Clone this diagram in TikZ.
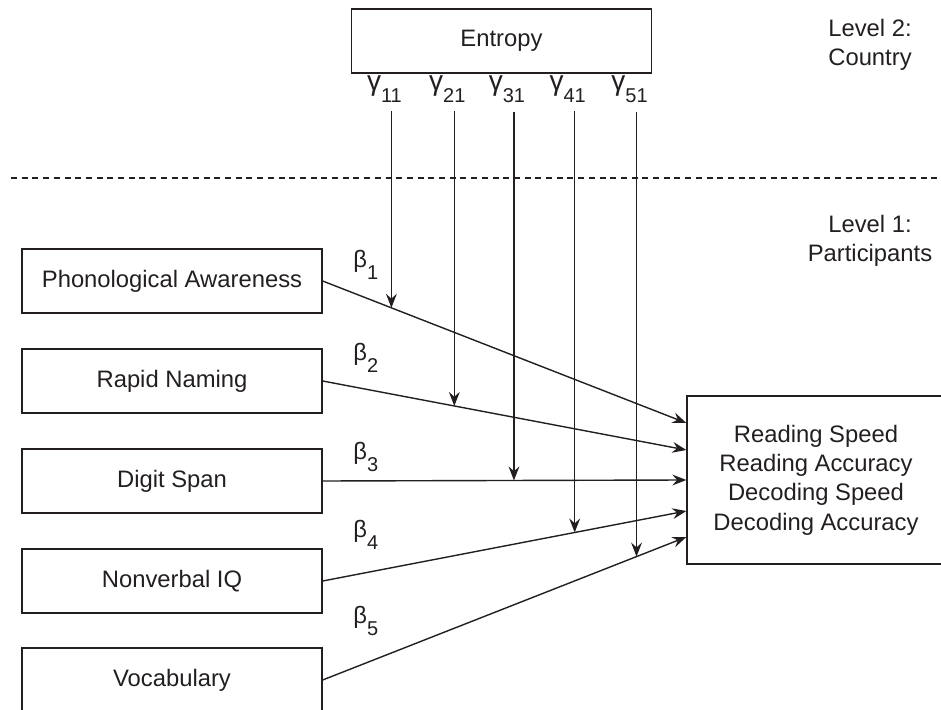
\documentclass[tikz,border=0pt]{standalone}
\usepackage{fontspec}
\setmainfont{Liberation Sans}
\usetikzlibrary{calc,arrows.meta}
\definecolor{ink}{RGB}{35,31,32}
\newcommand{\lowsub}[1]{\raisebox{-6pt}{\fontsize{10}{10}\selectfont #1}}
\newcommand{\bigam}{{\fontsize{14}{14}\selectfont γ}}

\begin{document}
\fontsize{11.9}{14.7}\selectfont
\begin{tikzpicture}[x=0.5pt,y=-0.5pt,
    box/.style={draw=ink,line width=0.65pt,text=ink,minimum width=150pt,minimum height=32pt,inner sep=0pt},
    lbl/.style={text=ink,inner sep=0pt},
    effect/.style={draw=ink,line width=0.7pt,-{Stealth[length=7pt,width=5.4pt,inset=2.4pt]}}]
\useasboundingbox (0,0) rectangle (941,710);

    % level 2
    \node[box] (ent) at (501.5,41) {Entropy};
    \node[lbl,align=center] (lv2) at (870,45) {Level 2:\\Country};

    % separator
    \coordinate (sepL) at (11,178);
    \coordinate (sepR) at (945,178);
    \draw[ink,line width=0.55pt,dash pattern=on 3pt off 2.35pt] (sepL) -- (sepR);

    % level 1
    \node[lbl,align=center] (lv1) at (870,241) {Level 1:\\Participants};
    \node[box] (pa) at (172,281) {Phonological Awareness};
    \node[box] (rn) at (172,381) {Rapid Naming};
    \node[box] (ds) at (172,481) {Digit Span};
    \node[box] (iq) at (172,581) {Nonverbal IQ};
    \node[box] (voc) at (172,680) {Vocabulary};
    \node[box,minimum width=129pt,minimum height=84pt,align=center] (out) at (816,480)
        {Reading Speed\\Reading Accuracy\\Decoding Speed\\Decoding Accuracy};

    \coordinate (t1) at ($(out.west)+(0,-57)$);
    \coordinate (t2) at ($(out.west)+(0,-30)$);
    \coordinate (t3) at (out.west);
    \coordinate (t4) at ($(out.west)+(0,31)$);
    \coordinate (t5) at ($(out.west)+(0,57)$);

    % fixed effects
    \draw[effect] (pa.east) -- coordinate[pos=0.189] (h1) (t1);
    \draw[effect] (rn.east) -- coordinate[pos=0.362] (h2) (t2);
    \draw[effect] (ds.east) -- coordinate[pos=0.526] (h3) (t3);
    \draw[effect] (iq.east) -- coordinate[pos=0.693] (h4) (t4);
    \draw[effect] (voc.east) -- coordinate[pos=0.863] (h5) (t5);

    \node[lbl,anchor=base west] (b1) at (353,268) {β\lowsub{1}};
    \node[lbl,anchor=base west] (b2) at (353,361) {β\lowsub{2}};
    \node[lbl,anchor=base west] (b3) at (353,459) {β\lowsub{3}};
    \node[lbl,anchor=base west] (b4) at (353,537) {β\lowsub{4}};
    \node[lbl,anchor=base west] (b5) at (353,623) {β\lowsub{5}};

    % cross-level effects
    \coordinate (gy) at (0,91);
    \node[lbl,anchor=base,xshift=-3.5pt] (g1) at (h1 |- gy) {\bigam\lowsub{11}};
    \node[lbl,anchor=base,xshift=-3.5pt] (g2) at (h2 |- gy) {\bigam\lowsub{21}};
    \node[lbl,anchor=base,xshift=-3.5pt] (g3) at (h3 |- gy) {\bigam\lowsub{31}};
    \node[lbl,anchor=base,xshift=-3.5pt] (g4) at (h4 |- gy) {\bigam\lowsub{41}};
    \node[lbl,anchor=base,xshift=-3.5pt] (g5) at (h5 |- gy) {\bigam\lowsub{51}};

    \draw[effect,shorten <=4pt] (g1.south -| h1) -- (h1);
    \draw[effect,shorten <=4pt] (g2.south -| h2) -- (h2);
    \draw[effect,shorten <=4pt] (g3.south -| h3) -- (h3);
    \draw[effect,shorten <=4pt] (g4.south -| h4) -- (h4);
    \draw[effect,shorten <=4pt] (g5.south -| h5) -- (h5);
\end{tikzpicture}
\end{document}
